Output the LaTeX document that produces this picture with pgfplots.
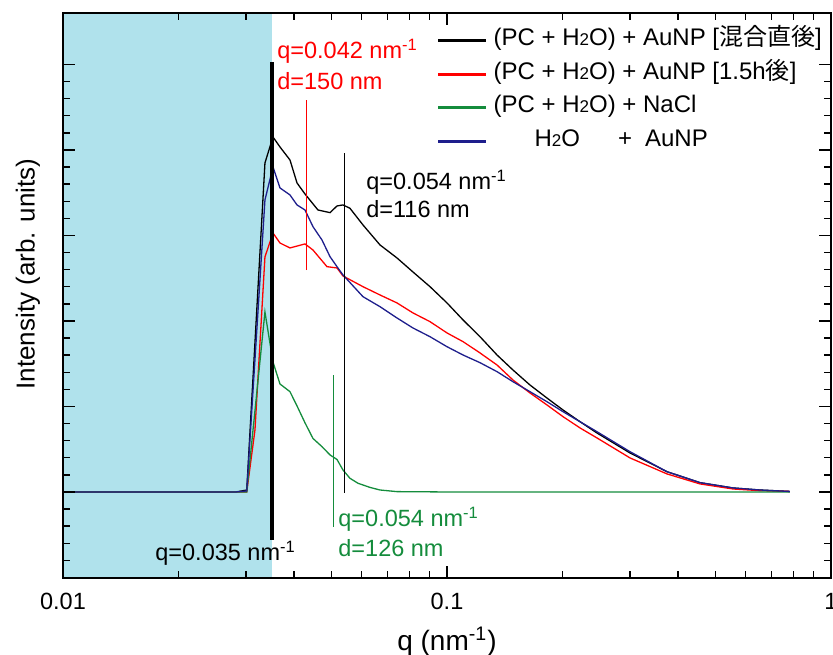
\documentclass[border=0pt]{standalone}
\usepackage{fontspec}
\setmainfont{Liberation Sans}
\newfontfamily\cjk{Noto Sans CJK JP}
\usepackage{pgfplots}
\pgfplotsset{compat=1.18}
\usetikzlibrary{calc}
\definecolor{shade}{RGB}{176,226,236}
\definecolor{cgreen}{RGB}{20,140,60}
\definecolor{cblue}{RGB}{30,30,140}
\newcommand\ff{\fontsize{11.75}{14}\selectfont}
\newcommand\two{{\fontsize{8.5}{10}\selectfont 2}}

\begin{document}
\begin{tikzpicture}
\begin{axis}[
  scale only axis, width=384pt, height=282.5pt,
  xmode=log, xmin=0.01, xmax=1, ymin=-1.006, ymax=5.602,
  xtick={0.01,0.1,1}, xticklabels={0.01,0.1,1},
  minor xtick={0.02,0.03,0.04,0.05,0.06,0.07,0.08,0.09,0.2,0.3,0.4,0.5,0.6,0.7,0.8,0.9},
  ytick={-1,0,1,2,3,4,5}, yticklabels={,,,,,,}, minor y tick num=4,
  tick align=inside, tick pos=both,
  xticklabel pos=lower, yticklabel pos=left,
  major tick length=6pt, minor tick length=3.5pt,
  every tick/.style={black, line width=0.7pt},
  axis line style={line width=0.75pt},
  axis on top,
  tick label style={font=\ff},
  xticklabel style={yshift=-4pt},
  xlabel={q (nm\textsuperscript{-1})},
  ylabel={Intensity (arb. units)},
  xlabel style={font=\fontsize{14}{16}\selectfont, at={(axis description cs:0.5,-0.113)}, anchor=center},
  ylabel style={font=\fontsize{13}{15}\selectfont, at={(axis description cs:-0.0456,0.538)}, anchor=center},
  legend style={draw=none, fill=none, at={(0.486,0.9796)}, anchor=north west,
    font=\fontsize{12}{14}\selectfont, inner sep=0pt, row sep=0.75pt,
    nodes={inner sep=1.5pt, text height=9pt, text depth=4pt},
    /tikz/every odd column/.append style={column sep=1.5pt}},
  legend cell align=left,
  legend image code/.code={\draw[#1, line width=1.5pt] (0pt,0pt) -- (24pt,0pt);},
]
% shaded low-q region
\addplot[fill=shade, draw=none, forget plot] coordinates {(0.01,-1.1) (0.01,5.7) (0.035,5.7) (0.035,-1.1)} -- cycle;

\addplot[black, line width=0.65pt] coordinates {
 (0.01,0) (0.02822,0) (0.0301,0.023) (0.03357,3.848) (0.03523,4.152) (0.03674,4.035)
 (0.03901,3.883) (0.04069,3.614) (0.04268,3.485) (0.04613,3.298) (0.04959,3.267)
 (0.05171,3.345) (0.0536,3.357) (0.05589,3.318) (0.06043,3.123) (0.06304,3.026)
 (0.06693,2.889) (0.0741,2.737) (0.08155,2.573) (0.09032,2.401) (0.1,2.211)
 (0.1101,2.012) (0.1219,1.816) (0.135,1.602) (0.1485,1.427) (0.1645,1.251)
 (0.1821,1.099) (0.2005,0.959) (0.222,0.822) (0.2458,0.690) (0.2997,0.456)
 (0.3741,0.237) (0.456,0.109) (0.5557,0.047) (0.6533,0.023) (0.782,0.006)};
\addlegendentry{(PC + H\two O) + AuNP [{\cjk 混合直後}]}

\addplot[red, line width=0.65pt] coordinates {
 (0.01,0) (0.0301,0) (0.03162,0.725) (0.03357,2.749) (0.03523,3.029) (0.03674,2.912)
 (0.03901,2.854) (0.04268,2.901) (0.04477,2.830) (0.0487,2.635) (0.05171,2.620)
 (0.0536,2.526) (0.06043,2.401) (0.06693,2.304) (0.0741,2.211) (0.08155,2.094)
 (0.09032,1.992) (0.1,1.860) (0.1101,1.758) (0.1219,1.626) (0.135,1.485)
 (0.1485,1.310) (0.1645,1.158) (0.1821,1.018) (0.2005,0.881) (0.222,0.749)
 (0.2458,0.632) (0.2997,0.398) (0.3741,0.211) (0.456,0.094) (0.5557,0.035)
 (0.6533,0.015) (0.782,0.006)};
\addlegendentry{(PC + H\two O) + AuNP [1.5h{\cjk 後}]}

\addplot[cgreen, line width=0.65pt] coordinates {
 (0.01,0) (0.0301,0) (0.03357,2.105) (0.03523,1.520) (0.03674,1.263) (0.03901,1.173)
 (0.04069,1.006) (0.04268,0.809) (0.04477,0.626) (0.04726,0.530) (0.04959,0.433)
 (0.05171,0.380) (0.0536,0.257) (0.05589,0.160) (0.05864,0.102) (0.06304,0.053)
 (0.06693,0.023) (0.0741,0.004) (0.1,0) (0.782,0)};
\addlegendentry{(PC + H\two O) + NaCl}

\addplot[cblue, line width=0.65pt] coordinates {
 (0.01,0) (0.02822,0) (0.0301,0.012) (0.03357,3.415) (0.03523,3.801) (0.03674,3.556)
 (0.03901,3.474) (0.04069,3.357) (0.04268,3.298) (0.04477,3.103) (0.04726,2.947)
 (0.04959,2.752) (0.05171,2.635) (0.0536,2.538) (0.06043,2.284) (0.06693,2.167)
 (0.0741,2.035) (0.08155,1.918) (0.09032,1.816) (0.1,1.699) (0.1101,1.602)
 (0.1219,1.512) (0.135,1.407) (0.1485,1.290) (0.1645,1.173) (0.1821,1.056)
 (0.2005,0.939) (0.222,0.822) (0.2458,0.705) (0.2997,0.471) (0.3741,0.237)
 (0.456,0.109) (0.5557,0.047) (0.6533,0.023) (0.782,0.006)};
\addlegendentry{\hspace*{20.5pt}H\two O\hspace{19pt}+\hspace{6.5pt}AuNP}

% peak markers
\addplot[black, line width=1.75pt, forget plot] coordinates {(0.035,-0.561) (0.035,5.029)};
\addplot[red, line width=0.5pt, forget plot] coordinates {(0.04295,2.596) (0.04295,4.585)};
\addplot[black, line width=0.5pt, forget plot] coordinates {(0.05393,-0.01) (0.05393,3.965)};
\addplot[cgreen, line width=0.5pt, forget plot] coordinates {(0.0506,-0.406) (0.0506,1.368)};

\node[anchor=base west, inner sep=0pt, red, font=\ff] at (axis cs:0.03608,5.064) {q=0.042 nm\textsuperscript{-1}};
\node[anchor=base west, inner sep=0pt, red, font=\ff] at (axis cs:0.03608,4.702) {d=150 nm};
\node[anchor=base west, inner sep=0pt, black, font=\ff] at (axis cs:0.06153,3.532) {q=0.054 nm\textsuperscript{-1}};
\node[anchor=base west, inner sep=0pt, black, font=\ff] at (axis cs:0.06153,3.205) {d=116 nm};
\node[anchor=base west, inner sep=0pt, cgreen, font=\ff] at (axis cs:0.05203,-0.409) {q=0.054 nm\textsuperscript{-1}};
\node[anchor=base west, inner sep=0pt, cgreen, font=\ff] at (axis cs:0.05203,-0.760) {d=126 nm};
\node[anchor=base west, inner sep=0pt, black, font=\ff] at (axis cs:0.01736,-0.807) {q=0.035 nm\textsuperscript{-1}};
\end{axis}
\pgfresetboundingbox
\path ($(current axis.south west)+(-31.5pt,-38.5pt)$) rectangle ($(current axis.north east)+(1pt,6.5pt)$);
\end{tikzpicture}
\end{document}
